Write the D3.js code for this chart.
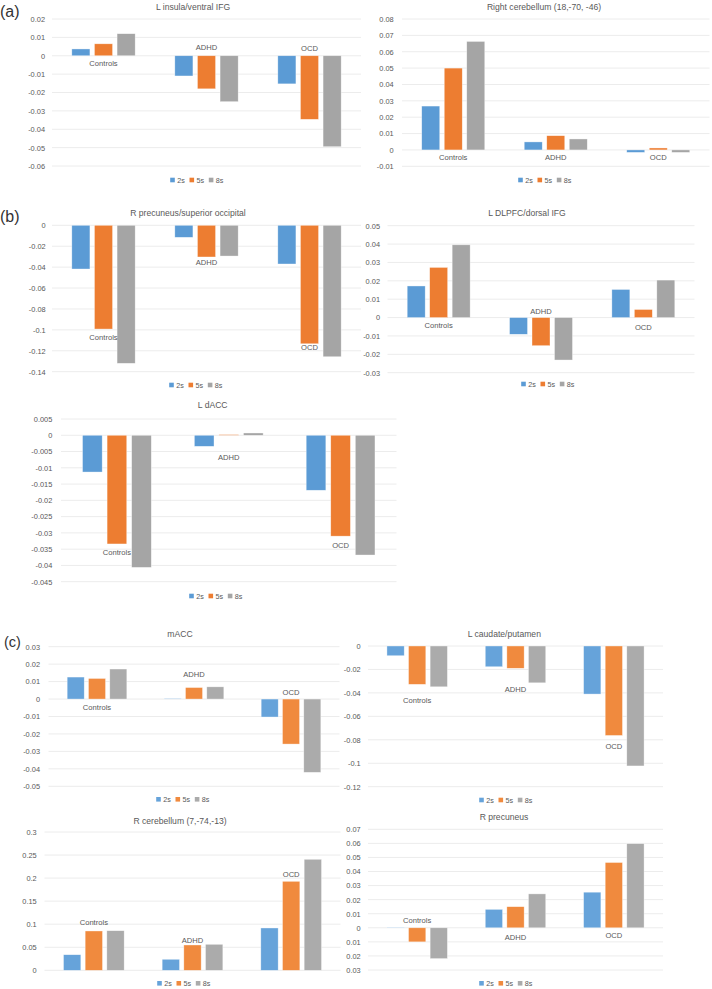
<!DOCTYPE html>
<html>
<head>
<meta charset="utf-8">
<script src="https://cdn.jsdelivr.net/npm/d3@7/dist/d3.min.js"></script>
<style>
  html, body { margin: 0; padding: 0; background: #fff; }
  svg { display: block; }
  text { font-family: "Liberation Sans", Arial, sans-serif; }
</style>
</head>
<body>
<svg id="chart" width="712" height="989"></svg>
<script>
// ---------------- DATA ----------------
const categories = ["Controls", "ADHD", "OCD"];
const seriesNames = ["2s", "5s", "8s"];

// values: one row per category, columns = 2s, 5s, 8s
const insulaVals      = [[0.0037, 0.0065, 0.0120], [-0.0110, -0.0180, -0.0250], [-0.0153, -0.0346, -0.0495]];
const rCerebellumVals = [[0.0268, 0.0500, 0.0663], [0.0049, 0.0087, 0.0067], [-0.0015, 0.0012, -0.0015]];
const precSupOccVals  = [[-0.0418, -0.0992, -0.1320], [-0.0115, -0.0303, -0.0294], [-0.0370, -0.1133, -0.1257]];
const dlpfcVals       = [[0.0172, 0.0273, 0.0396], [-0.0091, -0.0153, -0.0231], [0.0153, 0.0044, 0.0204]];
const dACCVals        = [[-0.0113, -0.0334, -0.0406], [-0.0034, 0.0002, 0.0007], [-0.0169, -0.0310, -0.0368]];
const mACCVals        = [[0.0126, 0.0118, 0.0172], [0.0003, 0.0066, 0.0070], [-0.0103, -0.0258, -0.0420]];
const caudateVals     = [[-0.0083, -0.0327, -0.0348], [-0.0177, -0.0190, -0.0314], [-0.0410, -0.0763, -0.1023]];
const rCereb2Vals     = [[0.0338, 0.0853, 0.0859], [0.0239, 0.0549, 0.0564], [0.0918, 0.1930, 0.2408]];
const rPrecuneusVals  = [[0.0003, -0.0100, -0.0219], [0.0131, 0.0150, 0.0241], [0.0253, 0.0464, 0.0598]];

// tick values
const insulaTicks      = [0.02, 0.01, 0, -0.01, -0.02, -0.03, -0.04, -0.05, -0.06];
const rCerebellumTicks = [0.08, 0.07, 0.06, 0.05, 0.04, 0.03, 0.02, 0.01, 0, -0.01];
const precSupOccTicks  = [0, -0.02, -0.04, -0.06, -0.08, -0.1, -0.12, -0.14];
const dlpfcTicks       = [0.05, 0.04, 0.03, 0.02, 0.01, 0, -0.01, -0.02, -0.03];
const dACCTicks        = [0.005, 0, -0.005, -0.01, -0.015, -0.02, -0.025, -0.03, -0.035, -0.04, -0.045];
const mACCTicks        = [0.03, 0.02, 0.01, 0, -0.01, -0.02, -0.03, -0.04, -0.05];
const caudateTicks     = [0, -0.02, -0.04, -0.06, -0.08, -0.1, -0.12];
const rCereb2Ticks     = [0.3, 0.25, 0.2, 0.15, 0.1, 0.05, 0];
const rPrecuneusTicks  = [0.07, 0.06, 0.05, 0.04, 0.03, 0.02, 0.01, 0, -0.01, -0.02, -0.03];
// tick labels exactly as printed in the figure
const rPrecuneusTickLabels = ["0.07", "0.06", "0.05", "0.04", "0.03", "0.02", "0.01", "0", "0.01", "0.02", "0.03"];

// where each category name is written (in data units along the value axis)
const insulaLabelAt      = [-0.0040, 0.0045, 0.0040];
const rCerebellumLabelAt = [-0.0047, -0.0047, -0.0047];
const precSupOccLabelAt  = [-0.1076, -0.0358, -0.1170];
const dlpfcLabelAt       = [-0.0044, 0.0033, -0.0051];
const dACCLabelAt        = [-0.0361, -0.0067, -0.0337];
const mACCLabelAt        = [-0.0046, 0.0139, 0.0038];
const caudateLabelAt     = [-0.0462, -0.0368, -0.0852];
const rCereb2LabelAt     = [0.1048, 0.0642, 0.2074];
const rPrecuneusLabelAt  = [0.0055, -0.0071, -0.0052];

// ---------------- LAYOUT / STYLE ----------------
const colorsAB = ["#5B9BD5", "#ED7D31", "#A5A5A5"];
const colorsC  = ["#66A3DA", "#F08A3E", "#ABABAB"];
const textColor = "#595959";
const gridColor = "#ECECEC";

const panels = [
  { title: "L insula/ventral IFG", vals: insulaVals, ticks: insulaTicks, labelAt: insulaLabelAt,
    x0: 52, x1: 361, yTop: 19, yBot: 166, tickX: 45, titleX: 193, titleY: 7, legX: 196, legY: 180, colors: colorsAB },
  { title: "Right cerebellum (18,-70, -46)", vals: rCerebellumVals, ticks: rCerebellumTicks, labelAt: rCerebellumLabelAt,
    x0: 402, x1: 709.5, yTop: 19, yBot: 166.3, tickX: 393.7, titleX: 544, titleY: 7, legX: 544, legY: 180, colors: colorsAB },
  { title: "R precuneus/superior occipital", vals: precSupOccVals, ticks: precSupOccTicks, labelAt: precSupOccLabelAt,
    x0: 52, x1: 361, yTop: 225.3, yBot: 371.7, tickX: 45.7, titleX: 188, titleY: 212.7, legX: 195, legY: 385, colors: colorsAB },
  { title: "L DLPFC/dorsal IFG", vals: dlpfcVals, ticks: dlpfcTicks, labelAt: dlpfcLabelAt,
    x0: 387.5, x1: 694.5, yTop: 225.7, yBot: 372.7, tickX: 380, titleX: 527, titleY: 213.3, legX: 547, legY: 384, colors: colorsAB },
  { title: "L dACC", vals: dACCVals, ticks: dACCTicks, labelAt: dACCLabelAt,
    x0: 61, x1: 396.5, yTop: 419, yBot: 581.7, tickX: 52.3, titleX: 212.7, titleY: 405, legX: 215, legY: 596, colors: colorsAB },
  { title: "mACC", vals: mACCVals, ticks: mACCTicks, labelAt: mACCLabelAt,
    x0: 48.5, x1: 339.5, yTop: 646.7, yBot: 786.3, tickX: 40, titleX: 180, titleY: 634, legX: 182, legY: 799.3, colors: colorsC },
  { title: "L caudate/putamen", vals: caudateVals, ticks: caudateTicks, labelAt: caudateLabelAt,
    x0: 368, x1: 663, yTop: 646, yBot: 786.7, tickX: 360.7, titleX: 504.3, titleY: 634, legX: 505, legY: 800, colors: colorsC },
  { title: "R cerebellum (7,-74,-13)", vals: rCereb2Vals, ticks: rCereb2Ticks, labelAt: rCereb2LabelAt,
    x0: 44.5, x1: 340.5, yTop: 832, yBot: 970.3, tickX: 36.7, titleX: 180, titleY: 820.7, legX: 183, legY: 983.3, colors: colorsC },
  { title: "R precuneus", vals: rPrecuneusVals, ticks: rPrecuneusTicks, labelAt: rPrecuneusLabelAt, tickLabels: rPrecuneusTickLabels,
    x0: 368, x1: 663, yTop: 829.3, yBot: 970, tickX: 360.7, titleX: 504, titleY: 817.3, legX: 505, legY: 983.3, colors: colorsC }
];

const sectionLabels = [
  { text: "(a)", x: 0, y: 11, size: 16 },
  { text: "(b)", x: 0, y: 216.7, size: 16 },
  { text: "(c)", x: 4, y: 641.7, size: 14.5 }
];

// ---------------- DRAW ----------------
const svg = d3.select("#chart");
const fmt = v => String(+v.toFixed(4));

panels.forEach(p => {
  const g = svg.append("g");
  const tMax = d3.max(p.ticks), tMin = d3.min(p.ticks);
  const y = d3.scaleLinear().domain([tMin, tMax]).range([p.yBot, p.yTop]);
  const x = d3.scaleBand().domain(categories).range([p.x0, p.x1]).paddingInner(0.385).paddingOuter(0.1925);
  const xs = d3.scaleBand().domain(seriesNames).range([0, x.bandwidth()]).paddingInner(0.2).paddingOuter(0);

  // gridlines
  g.selectAll("line.grid").data(p.ticks).join("line")
    .attr("x1", p.x0).attr("x2", p.x1)
    .attr("y1", d => y(d)).attr("y2", d => y(d))
    .attr("stroke", gridColor).attr("stroke-width", 1);

  // tick labels via axis
  const axis = d3.axisLeft(y).tickValues(p.ticks).tickSize(0).tickPadding(0)
    .tickFormat((d, i) => p.tickLabels ? p.tickLabels[i] : fmt(d));
  const ag = g.append("g").attr("transform", `translate(${p.tickX},0)`).call(axis);
  ag.select(".domain").remove();
  ag.selectAll("text").attr("fill", textColor).attr("font-size", 7.4)
    .attr("font-family", "Liberation Sans, Arial, sans-serif");

  // bars
  categories.forEach((c, ci) => {
    seriesNames.forEach((s, si) => {
      const v = p.vals[ci][si];
      g.append("rect")
        .attr("x", x(c) + xs(s))
        .attr("width", xs.bandwidth())
        .attr("y", Math.min(y(v), y(0)))
        .attr("height", Math.max(0.5, Math.abs(y(v) - y(0))))
        .attr("fill", p.colors[si])
        .attr("stroke", "#ffffff").attr("stroke-opacity", 0.6).attr("stroke-width", 0.6);
    });
    // category label
    g.append("text")
      .attr("x", x(c) + x.bandwidth() / 2)
      .attr("y", y(p.labelAt[ci]))
      .attr("dy", "0.35em")
      .attr("text-anchor", "middle")
      .attr("fill", textColor).attr("font-size", 7.6)
      .text(c);
  });

  // title
  g.append("text").attr("x", p.titleX).attr("y", p.titleY).attr("dy", "0.35em")
    .attr("text-anchor", "middle").attr("fill", textColor).attr("font-size", 8.6)
    .text(p.title);

  // legend
  const itemW = 19.3, totalW = itemW * 2 + 13;
  const lg = g.append("g").attr("transform", `translate(${p.legX - totalW / 2},${p.legY})`);
  seriesNames.forEach((s, si) => {
    lg.append("rect").attr("x", si * itemW).attr("y", -2.3).attr("width", 4.6).attr("height", 4.6)
      .attr("fill", p.colors[si]);
    lg.append("text").attr("x", si * itemW + 7).attr("y", 0).attr("dy", "0.35em")
      .attr("fill", textColor).attr("font-size", 7.2).text(s);
  });
});

sectionLabels.forEach(l => {
  svg.append("text").attr("x", l.x).attr("y", l.y).attr("dy", "0.35em")
    .attr("fill", "#333333").attr("font-size", l.size).text(l.text);
});
</script>
</body>
</html>
